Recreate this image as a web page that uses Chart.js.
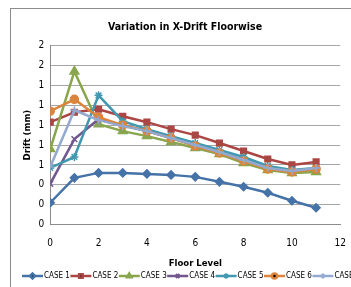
<!DOCTYPE html>
<html><head><meta charset="utf-8">
<script src="https://cdn.jsdelivr.net/npm/chart.js@4/dist/chart.umd.min.js"></script>
<style>
html,body{margin:0;padding:0;background:#fff;overflow:hidden;width:351px;height:287px}
#frame{position:absolute;left:10px;top:8px;width:400px;height:300px;border:1px solid #8c8c8c;}
#wrap{position:absolute;left:0px;top:0px;width:348px;height:279px}
</style></head><body>
<div id="frame"><div id="wrap"><canvas id="c" width="348" height="279"></canvas></div></div>
<script>
const floors = [0,1,2,3,4,5,6,7,8,9,10,11];
const seriesNames = ["CASE 1","CASE 2","CASE 3","CASE 4","CASE 5","CASE 6","CASE 7"];
const case1 = [0.22,0.47,0.52,0.52,0.51,0.50,0.48,0.43,0.38,0.32,0.24,0.17];
const case2 = [1.03,1.13,1.16,1.09,1.03,0.96,0.90,0.82,0.74,0.66,0.60,0.63];
const case3 = [0.76,1.54,1.01,0.94,0.89,0.83,0.77,0.71,0.62,0.55,0.52,0.53];
const case4 = [0.41,0.86,1.06,1.00,0.94,0.87,0.80,0.73,0.65,0.57,0.54,0.56];
const case5 = [0.57,0.68,1.30,1.04,0.96,0.89,0.82,0.75,0.68,0.59,0.55,0.57];
const case6 = [1.14,1.26,1.08,1.00,0.94,0.87,0.79,0.72,0.64,0.56,0.53,0.56];
const case7 = [0.58,1.15,1.05,0.99,0.94,0.87,0.80,0.73,0.65,0.57,0.54,0.57];
const allCases = [case1,case2,case3,case4,case5,case6,case7];
const colors = ["#4572A7","#AA4643","#89A54E","#71588F","#4198AF","#DB843D","#93A9CF"];
const markers = ["rectRot","rect","triangle","crossRot","star","circle","cross"];
const radii = [4,4,5,4,4,4,4];

const datasets = allCases.map((vals,i)=>({
  label: seriesNames[i],
  data: floors.map((f,j)=>({x:f,y:vals[j]})),
  borderColor: colors[i],
  backgroundColor: colors[i],
  pointBackgroundColor: colors[i],
  pointBorderColor: colors[i],
  pointStyle: markers[i],
  pointRadius: radii[i],
  pointBorderWidth: 1.5,
  borderWidth: 2.5,
  tension: 0,
  order: 7-i
}));

const font = "'Liberation Sans Narrow','DejaVu Sans Condensed','Liberation Sans',sans-serif";

// single-row legend (line + marker + label), clipped by the window like the original
const rowLegend = {
  id: 'rowLegend',
  afterDraw(chart) {
    const ctx = chart.ctx;
    const y = chart.height - 12;
    let x = 11;
    ctx.save();
    ctx.font = "8px " + font;
    ctx.textBaseline = 'middle';
    ctx.textAlign = 'left';
    chart.data.datasets.forEach((ds) => {
      ctx.strokeStyle = ds.borderColor;
      ctx.lineWidth = 2.5;
      ctx.beginPath(); ctx.moveTo(x, y); ctx.lineTo(x + 21, y); ctx.stroke();
      Chart.helpers.drawPoint(ctx, { pointStyle: ds.pointStyle, radius: 2.5, borderWidth: 1 }, x + 10.5, y);
      ctx.fillStyle = '#000';
      ctx.fillText(ds.label, x + 22, y);
      x += 48.4;
    });
    ctx.restore();
  }
};

new Chart(document.getElementById('c'), {
  type: 'line',
  data: { datasets },
  plugins: [rowLegend],
  options: {
    responsive: false,
    animation: false,
    layout: { padding: { left: 12, right: 12, top: 0, bottom: 19 } },
    plugins: {
      title: { display: true, text: 'Variation in X-Drift Floorwise', color: '#000',
        font: { family: font, size: 10.5, weight: 'bold' }, padding: { top: 12, bottom: 12 } },
      legend: { display: false },
      tooltip: { enabled: false }
    },
    scales: {
      x: { type: 'linear', min: 0, max: 12,
        ticks: { stepSize: 2, color: '#000', font: { family: font, size: 10 }, padding: 13 },
        grid: { display: false, drawTicks: false },
        border: { color: '#8c8c8c' },
        title: { display: true, text: 'Floor Level', color: '#000', font: { family: font, size: 9.5, weight: 'bold' }, padding: { top: -5, bottom: 0 } } },
      y: { min: 0, max: 1.8,
        ticks: { stepSize: 0.2, color: '#000', font: { family: font, size: 10 }, padding: 6,
          callback: v => Math.round(v).toString() },
        grid: { color: '#a6a6a6', drawTicks: false },
        border: { color: '#8c8c8c' },
        title: { display: true, text: 'Drift (mm)', color: '#000', font: { family: font, size: 9.5, weight: 'bold', lineHeight: 1 }, padding: { top: 0, bottom: 0 } } }
    }
  }
});
</script>
</body></html>
